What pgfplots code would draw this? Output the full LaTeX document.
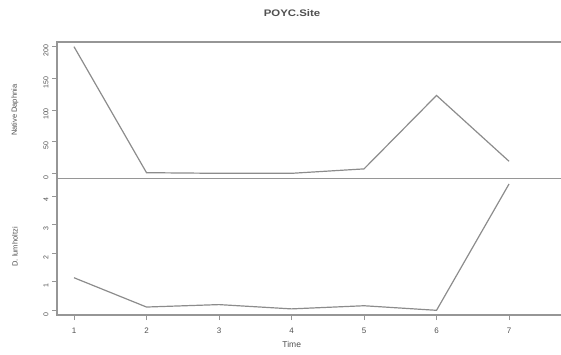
\documentclass[border=0pt]{standalone}
\usepackage{fontspec}
\setmainfont{Liberation Sans}
\usepackage{pgfplots}
\pgfplotsset{compat=1.18}
\definecolor{lin}{RGB}{140,140,140}
\definecolor{frm}{RGB}{150,150,150}
\definecolor{txt}{RGB}{80,80,80}
\begin{document}
\begin{tikzpicture}
\pgfplotsset{
  panel/.style={
    scale only axis, width=508pt,
    xmin=0.7655, xmax=7.772,
    axis line style={frm, line width=1.3pt},
    tick style={frm, line width=0.9pt},
    tick align=outside, major tick length=5pt,
    ytick pos=left, xtick pos=bottom,
    yticklabel style={rotate=90, anchor=south, font=\fontsize{7}{8}\selectfont, text=txt, xshift=-4pt},
    every axis y label/.style={at={(axis description cs:-0.083,0.5)}, rotate=90, anchor=center, font=\fontsize{7.5}{9}\selectfont, text=txt},
    /pgf/number format/assume math mode=true,
  }
}
\begin{axis}[panel, at={(57pt,175.3pt)}, anchor=south west, height=136.7pt,
  ymin=-8.5, ymax=207.4, ytick={0,50,100,150,200}, xtick=\empty,
  ylabel={Native Daphnia}]
\addplot[lin, line width=1.2pt] coordinates {(1,200) (2,1) (3,0) (4,0) (5,7) (6,123) (7,19)};
\end{axis}
\begin{axis}[panel, at={(57pt,39pt)}, anchor=south west, height=136.3pt,
  ymin=-0.164, ymax=4.605, ytick={0,1,2,3,4}, xtick={1,2,3,4,5,6,7},
  xticklabel style={font=\fontsize{8}{9}\selectfont, text=txt, yshift=-4pt},
  ylabel={D. lumholtzi}, xlabel={Time},
  every axis x label/.style={at={(axis description cs:0.462,0)}, anchor=center, yshift=-29pt, font=\fontsize{8.5}{10}\selectfont, text=txt}]
\addplot[lin, line width=1.2pt] coordinates {(1,1.14) (2,0.115) (3,0.2) (4,0.05) (5,0.16) (6,0.0) (7,4.42)};
\end{axis}
\node[font=\bfseries\fontsize{9.5}{11}\selectfont, text=txt, xscale=1.2] at (292pt,341pt) {POYC.Site};
\pgfresetboundingbox
\useasboundingbox (0pt,0pt) rectangle (561pt,354pt);
\end{tikzpicture}
\end{document}
